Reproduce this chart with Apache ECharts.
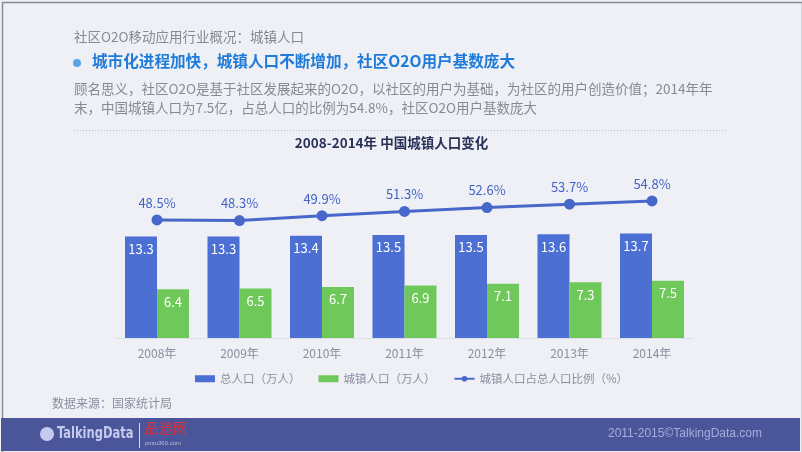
<!DOCTYPE html>
<html><head><meta charset="utf-8">
<script src="https://cdn.jsdelivr.net/npm/echarts@6/dist/echarts.min.js"></script>
<style>html,body{margin:0;padding:0;background:#eff0f5;}#c{width:802px;height:452px;}</style>
</head><body><div id="c"></div>
<script>
var categories = ['2008年','2009年','2010年','2011年','2012年','2013年','2014年'];
var totalPop = [13.3,13.3,13.4,13.5,13.5,13.6,13.7];
var urbanPop = [6.4,6.5,6.7,6.9,7.1,7.3,7.5];
var urbanRatio = [48.5,48.3,49.9,51.3,52.6,53.7,54.8];
var seriesNames = ['总人口（万人）','城镇人口（万人）','城镇人口占总人口比例（%）'];

var CJK = '"Noto Sans CJK SC", "Noto Sans", sans-serif';
var chart = echarts.init(document.getElementById('c'), null, {renderer:'canvas'});
chart.setOption({
  backgroundColor: '#eff0f5',
  animation: false,
  textStyle: {fontFamily: CJK},
  grid: {left: 115.75, right: 108.75, top: 187, bottom: 114},
  legend: {
    left: 190, top: 368, itemWidth: 20, itemHeight: 7, itemGap: 18,
    textStyle: {color: '#8a8fa0', fontSize: 11.5, fontFamily: CJK},
    data: [
      {name: seriesNames[0], icon: 'rect'},
      {name: seriesNames[1], icon: 'rect'},
      {name: seriesNames[2]}
    ]
  },
  xAxis: {
    type: 'category', data: categories, boundaryGap: true,
    axisLine: {lineStyle: {color: '#dcdfe8'}}, axisTick: {show: false},
    axisLabel: {color: '#8a8fa0', fontSize: 12, margin: 9}
  },
  yAxis: [
    {type: 'value', min: 0, max: 19.8, show: false, splitLine: {show: false}},
    {type: 'value', min: 9.4, max: 59.4, show: false, splitLine: {show: false}}
  ],
  series: [
    {name: seriesNames[0], type: 'bar', data: totalPop, barWidth: 32, barGap: '0%',
     itemStyle: {color: '#4b6fd3'},
     label: {show: true, position: 'insideTop', distance: 6, color: '#fff', fontSize: 13}},
    {name: seriesNames[1], type: 'bar', data: urbanPop, barWidth: 32, barGap: '0%',
     itemStyle: {color: '#6fc95a'},
     label: {show: true, position: 'insideTop', distance: 6, color: '#fff', fontSize: 13}},
    {name: seriesNames[2], type: 'line', yAxisIndex: 1, data: urbanRatio,
     symbol: 'circle', symbolSize: 11,
     lineStyle: {color: '#4767cb', width: 3}, itemStyle: {color: '#4767cb'},
     label: {show: true, position: 'top', distance: 5, color: '#4263c4', fontSize: 13,
       formatter: function(p){ return p.value.toFixed(1) + '%'; }}}
  ],
  graphic: [
    {type: 'rect', left: 0, top: 0, shape: {x:0.5, y:0.5, width: 800, height: 451}, silent: true,
     style: {fill: 'none', stroke: '#8a8c92', lineWidth: 1.5}},
    {type: 'text', left: 74, top: 30, style: {text: '社区O2O移动应用行业概况：城镇人口', fill: '#858a96', font: '13.5px ' + CJK}},
    {type: 'circle', shape: {cx: 77, cy: 63, r: 4}, style: {fill: '#5ea3e2'}},
    {type: 'text', left: 92, top: 53.5, style: {text: '城市化进程加快，城镇人口不断增加，社区O2O用户基数庞大', fill: '#1f7bd8', font: 'bold 15.6px ' + CJK}},
    {type: 'text', left: 74, top: 82, style: {text: '顾名思义，社区O2O是基于社区发展起来的O2O，以社区的用户为基础，为社区的用户创造价值；2014年年', fill: '#858a96', font: '13.5px ' + CJK}},
    {type: 'text', left: 74, top: 101, style: {text: '末，中国城镇人口为7.5亿，占总人口的比例为54.8%，社区O2O用户基数庞大', fill: '#858a96', font: '13.5px ' + CJK}},
    {type: 'line', shape: {x1: 74, y1: 130.5, x2: 728, y2: 130.5}, style: {stroke: '#b8bcc8', lineWidth: 1, lineDash: [1, 2]}},
    {type: 'text', x: 391.5, y: 143, style: {text: '2008-2014年 中国城镇人口变化', fill: '#2a3158', font: 'bold 13.5px ' + CJK, textAlign: 'center', textVerticalAlign: 'middle'}},
    {type: 'text', left: 52, top: 397, style: {text: '数据来源：国家统计局', fill: '#8a8fa0', font: '12px ' + CJK}},
    {type: 'rect', shape: {x: 1, y: 418, width: 799, height: 33}, style: {fill: '#4b5599'}},
    {type: 'circle', shape: {cx: 47, cy: 434, r: 7}, style: {fill: '#c5cbee'}},
    {type: 'text', x: 57, y: 434, scaleX: 0.8, style: {text: 'TalkingData', fill: '#c5cbee', font: 'bold 16px "DejaVu Sans Condensed", "Liberation Sans", sans-serif', textVerticalAlign: 'middle'}},
    {type: 'line', shape: {x1: 139.5, y1: 423, x2: 139.5, y2: 448}, style: {stroke: '#d5d8ee', lineWidth: 1}},
    {type: 'text', x: 145, y: 428, style: {text: '品途网', fill: '#e0303a', font: '14px ' + CJK, textVerticalAlign: 'middle'}},
    {type: 'text', x: 145, y: 443, style: {text: 'pintu360.com', fill: '#b9bde0', font: '6px sans-serif', textVerticalAlign: 'middle'}},
    {type: 'text', x: 762, y: 434, style: {text: '2011-2015©TalkingData.com', fill: '#a6addc', font: '12px "Liberation Sans", Arial, sans-serif', textAlign: 'right', textVerticalAlign: 'middle'}}
  ]
});
</script></body></html>
